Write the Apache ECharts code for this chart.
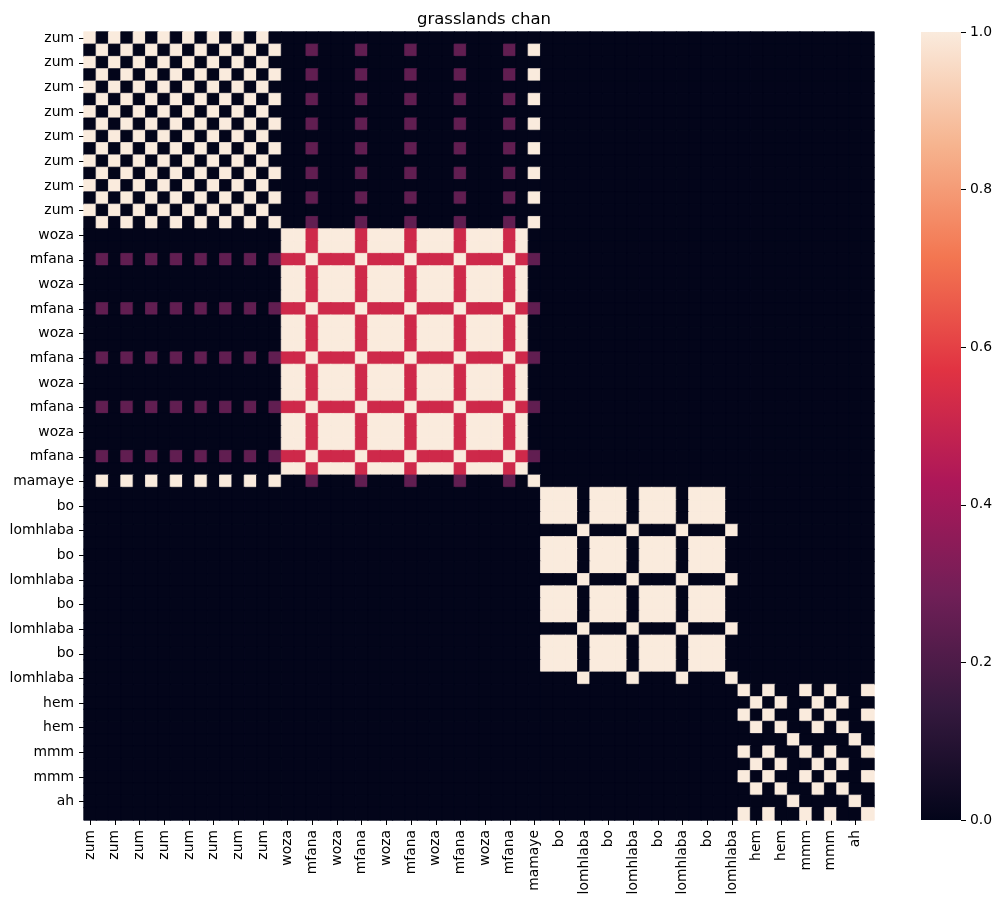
<!DOCTYPE html>
<html><head><meta charset="utf-8">
<script src="https://cdn.jsdelivr.net/npm/echarts@6/dist/echarts.min.js"></script>
<style>html,body{margin:0;padding:0;background:#fff}#c{width:1003px;height:905px}</style>
</head><body><div id="c"></div>
<script>
// Token sequence (rows and columns of the self-similarity matrix)
const tokens = [
  'zum','mamaye','zum','mamaye','zum','mamaye','zum','mamaye',
  'zum','mamaye','zum','mamaye','zum','mamaye','zum','mamaye',
  'woza','woza','mfana','woza','woza','woza','mfana','woza',
  'woza','woza','mfana','woza','woza','woza','mfana','woza',
  'woza','woza','mfana','woza',
  'mamaye',
  'bo','bo','bo','lomhlaba','bo','bo','bo','lomhlaba',
  'bo','bo','bo','lomhlaba','bo','bo','bo','lomhlaba',
  'mmm','hem','mmm','hem','ah','mmm','hem','mmm','hem','ah','mmm'
];
// Similarity values
const sameWordValue = 1.0;
const pairWordsA = ['woza', 'mamaye'];
const pairWordsB = ['mfana', 'mfana'];
const pairValues = [0.52, 0.25];
const otherValue = 0.0;
// Colour bar ticks
const cbarTicks = [0.0, 0.2, 0.4, 0.6, 0.8, 1.0];
const titleText = 'grasslands chan';

const rocket = ['#03051a','#35193e','#701f57','#ad1759','#e13342','#f37651','#f6b48f','#faebdd'];
const FONT = 'DejaVu Sans';

function sim(a, b) {
  if (a === b) return sameWordValue;
  for (let k = 0; k < pairValues.length; k++) {
    if ((a === pairWordsA[k] && b === pairWordsB[k]) || (b === pairWordsA[k] && a === pairWordsB[k])) return pairValues[k];
  }
  return otherValue;
}
const data = [];
for (let y = 0; y < tokens.length; y++) {
  for (let x = 0; x < tokens.length; x++) {
    const v = sim(tokens[x], tokens[y]);
    // border in the cell's own colour hides anti-aliasing seams between cells
    data.push({value: [x, y, v], itemStyle: {borderColor: echarts.color.lerp(v, rocket), borderWidth: 0.8}});
  }
}

const chart = echarts.init(document.getElementById('c'), null, {renderer: 'canvas'});
const tickStyle = {show: true, length: 5, lineStyle: {color: '#000', width: 1}};
const labelStyle = {fontFamily: FONT, fontSize: 13.9, color: '#000'};
chart.setOption({
  animation: false,
  backgroundColor: '#fff',
  title: {
    text: titleText, left: 479, top: 6, textAlign: 'center',
    textStyle: {fontFamily: FONT, fontSize: 16.5, fontWeight: 'normal', color: '#000'}
  },
  grid: [
    {left: 84, top: 32, width: 790, height: 788, containLabel: false, outerBoundsMode: 'none'},
    {left: 921, top: 32, width: 40, height: 788, containLabel: false, outerBoundsMode: 'none'}
  ],
  xAxis: [
    {
      type: 'category', gridIndex: 0, data: tokens, position: 'bottom',
      axisLine: {show: false},
      axisTick: Object.assign({interval: 1, alignWithLabel: true}, tickStyle),
      axisLabel: Object.assign({interval: 1, rotate: 90, margin: 10}, labelStyle),
      splitLine: {show: false}, splitArea: {show: false}
    },
    {type: 'category', gridIndex: 1, data: ['cb'], show: false}
  ],
  yAxis: [
    {
      type: 'category', gridIndex: 0, data: tokens, inverse: true,
      axisLine: {show: false},
      axisTick: Object.assign({interval: 1, alignWithLabel: true}, tickStyle),
      axisLabel: Object.assign({interval: 1, margin: 10}, labelStyle),
      splitLine: {show: false}, splitArea: {show: false}
    },
    {
      type: 'value', gridIndex: 1, min: cbarTicks[0], max: cbarTicks[cbarTicks.length - 1],
      interval: 0.2, position: 'right',
      axisLine: {show: false},
      axisTick: tickStyle,
      axisLabel: Object.assign({margin: 9, formatter: v => v.toFixed(1)}, labelStyle),
      splitLine: {show: false}
    }
  ],
  visualMap: {
    type: 'continuous', show: false, min: 0, max: 1, seriesIndex: 0,
    inRange: {color: rocket}
  },
  series: [
    {
      type: 'heatmap', xAxisIndex: 0, yAxisIndex: 0, data: data,
      progressive: 0, emphasis: {disabled: true}, silent: true
    },
    {
      type: 'bar', xAxisIndex: 1, yAxisIndex: 1, data: [cbarTicks[cbarTicks.length - 1]],
      barWidth: '100%', silent: true,
      itemStyle: {
        color: {
          type: 'linear', x: 0, y: 1, x2: 0, y2: 0,
          colorStops: rocket.map((c, i) => ({offset: i / (rocket.length - 1), color: c}))
        }
      }
    }
  ]
});
</script>
</body></html>
